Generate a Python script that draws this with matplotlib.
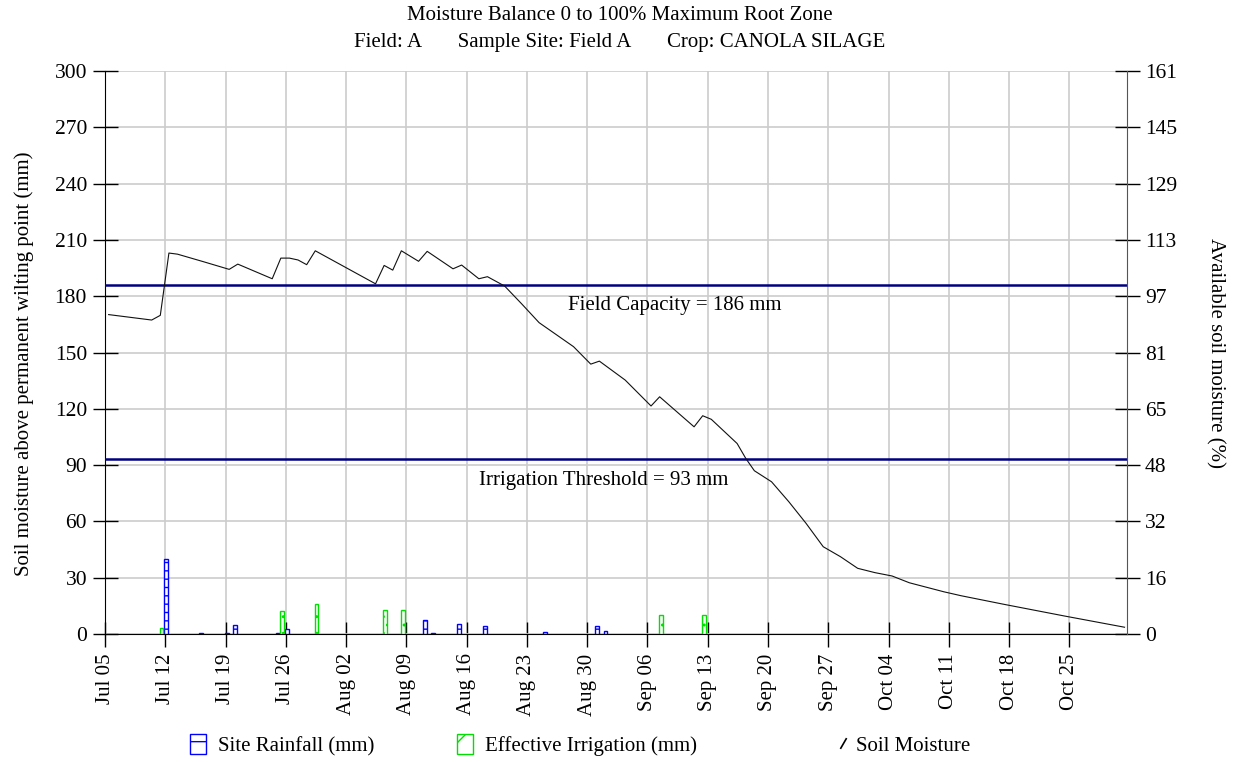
import matplotlib

matplotlib.use("Agg")
import matplotlib.pyplot as plt
from matplotlib.lines import Line2D
from matplotlib.patches import Patch
import numpy as np
import pandas as pd

plt.rcParams.update({
    "font.family": "serif",
    "font.serif": ["Liberation Serif", "DejaVu Serif"],
    "font.size": 15,
    "hatch.linewidth": 1.0,
})

SEASON = "2023"

# soil moisture above PWP (mm), daily balance at turning points
moisture_dates = [
    "07-05", "07-10", "07-11", "07-12", "07-13", "07-16", "07-19", "07-20",
    "07-24", "07-25", "07-26", "07-27", "07-28", "07-29", "08-05", "08-06",
    "08-07", "08-08", "08-10", "08-11", "08-14", "08-15", "08-17", "08-18",
    "08-20", "08-22", "08-24", "08-28", "08-30", "08-31", "09-03", "09-06",
    "09-07", "09-11", "09-12", "09-13", "09-16", "09-17", "09-18", "09-20",
    "09-22", "09-24", "09-26", "09-28", "09-30", "10-02", "10-04", "10-06",
    "10-10", "10-12", "10-17", "10-24", "10-31",
]
moisture_mm = [
    170.2, 167.3, 169.8, 203.0, 202.4, 198.4, 194.3, 197.1,
    189.3, 200.3, 200.3, 199.3, 196.8, 204.2, 186.6, 196.4,
    193.9, 204.2, 198.6, 203.9, 194.6, 196.6, 189.3, 190.4,
    185.4, 175.8, 165.9, 153.1, 143.8, 145.4, 135.3, 121.5,
    126.4, 110.4, 116.3, 114.4, 101.5, 93.6, 87.0, 81.1,
    70.5, 59.0, 46.5, 41.2, 35.0, 32.7, 30.9, 27.3,
    22.5, 20.4, 15.8, 9.6, 3.6,
]

rain_dates = ["07-12", "07-16", "07-19", "07-20", "07-25", "07-26", "08-11",
              "08-12", "08-15", "08-18", "08-25", "08-31", "09-01"]
rain_mm = [40, 0.5, 0.5, 5, 0.5, 2.5, 7.5, 0.5, 5.5, 4, 1, 4, 1.5]

irrig_dates = ["07-11", "07-25", "07-29", "08-06", "08-08", "09-07", "09-12"]
irrig_mm = [3, 12, 16, 13, 13, 10, 10]

field_capacity = 186
irrigation_threshold = 93
y_max = 300


def to_dates(md):
    return pd.to_datetime([f"{SEASON}-{d}" for d in md])


m_dt = to_dates(moisture_dates) + pd.Timedelta(hours=10)
r_dt = to_dates(rain_dates) + pd.Timedelta(hours=3)
i_dt = to_dates(irrig_dates) + pd.Timedelta(hours=13.5)

fig = plt.figure(figsize=(12.36, 7.62), dpi=100)
ax = fig.add_axes([0.0850, 0.168, 0.8268, 0.7388])

ax.bar(r_dt, rain_mm, width=0.45, facecolor="white", edgecolor="blue",
       hatch="--", linewidth=1.0, zorder=3)
ax.bar(i_dt, irrig_mm, width=0.45, facecolor="white", edgecolor="#00e000",
       hatch="..", linewidth=1.0, zorder=3)
ax.plot(m_dt, moisture_mm, color="#111111", lw=0.8, zorder=4)

ax.axhline(field_capacity, color="#000080", lw=1.8, zorder=3)
ax.axhline(irrigation_threshold, color="#000080", lw=1.8, zorder=3)

start = pd.Timestamp(f"{SEASON}-07-05")
ax.text(start + pd.Timedelta(days=66.2), field_capacity - 11,
        f"Field Capacity = {field_capacity} mm", ha="center", va="center")
ax.text(start + pd.Timedelta(days=57.9), irrigation_threshold - 11,
        f"Irrigation Threshold = {irrigation_threshold} mm",
        ha="center", va="center")

ax.set_xlim(start, start + pd.Timedelta(days=118.7))
ax.set_ylim(0, y_max)
ax.set_yticks(np.arange(0, y_max + 1, 30))
ticks = pd.date_range(start, start + pd.Timedelta(days=118), freq="7D")
ax.set_xticks(ticks)
ax.set_xticklabels([t.strftime("%b %d") for t in ticks], rotation=90)
ax.tick_params(axis="both", direction="inout", length=18, width=1.0, pad=4)
ax.tick_params(axis="y", labelsize=15.5)
ax.tick_params(axis="x", pad=5)
ax.grid(True, color="#cccccc", lw=1.2, zorder=0)
ax.set_axisbelow(True)
ax.spines["top"].set_visible(False)
ax.spines["right"].set_visible(False)
ax.set_ylabel("Soil moisture above permanent wilting point (mm)", labelpad=18)
ax.yaxis.set_label_coords(-0.07, 0.48)

# percent of field capacity on the right
ax2 = ax.twinx()
pct_max = y_max * 100 / field_capacity
ax2.set_ylim(0, pct_max)
pct_ticks = np.arange(0, y_max + 1, 30) * 100 / field_capacity
ax2.set_yticks(pct_ticks)
ax2.set_yticklabels([f"{p:.0f}" for p in pct_ticks])
ax2.tick_params(axis="y", direction="inout", length=18, width=1.0, pad=4,
                labelsize=15.5)
for s in ["top", "left", "bottom"]:
    ax2.spines[s].set_visible(False)
ax2.spines["right"].set_color("#555555")
ax2.set_ylabel("Available soil moisture (%)", rotation=270, labelpad=34)

fig.text(620 / 1236, 1 - 16 / 762, "Moisture Balance 0 to 100% Maximum Root Zone",
         ha="center", va="center")
fig.text(620 / 1236, 1 - 43 / 762,
         "Field: A       Sample Site: Field A       Crop: CANOLA SILAGE",
         ha="center", va="center")

legend_items = [
    (Patch(facecolor="white", edgecolor="blue", hatch="-"), "Site Rainfall (mm)", 0.1537, 0.75, 0.6),
    (Patch(facecolor="white", edgecolor="#00e000", hatch="/"), "Effective Irrigation (mm)", 0.3697, 0.75, 0.6),
    (Line2D([], [], color="black", ls="None", marker=(2, 0, -30), markersize=9, mew=1.2),
     "Soil Moisture", 0.677, 0.6, 0.3),
]
for handle, label, xpos, hl, tp in legend_items:
    fig.legend([handle], [label], loc="center left",
               bbox_to_anchor=(xpos, 1 - 745 / 762), frameon=False,
               borderpad=0, borderaxespad=0, handlelength=hl,
               handleheight=1.1, handletextpad=tp)

fig.savefig("out.png", dpi=100)
